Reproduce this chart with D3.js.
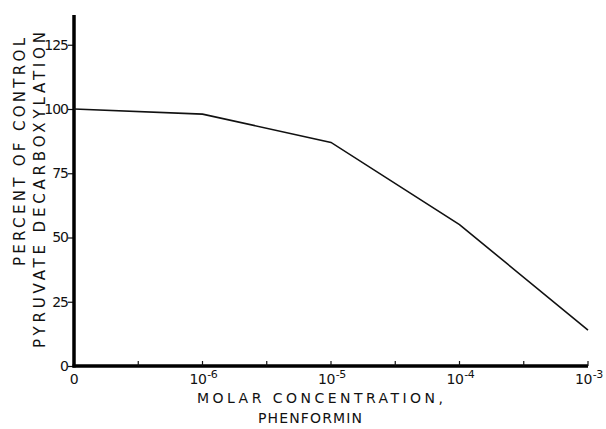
<!DOCTYPE html>
<html>
<head>
<meta charset="utf-8">
<script src="https://cdn.jsdelivr.net/npm/d3@7"></script>
<style>
  body { margin: 0; background: #fff; }
  text { font-family: "DejaVu Sans", sans-serif; fill: #111; }
</style>
</head>
<body>
<div id="chart"></div>
<script>
// concentration as log10 exponent; the "0" concentration sits one decade below 10^-6
const concExp = [-7, -6, -5, -4, -3];
const percentControl = [100, 98, 87, 55, 14];
const xTickLabels = [
    { exp: -7, text: "0", sup: "" },
    { exp: -6, text: "10", sup: "-6" },
    { exp: -5, text: "10", sup: "-5" },
    { exp: -4, text: "10", sup: "-4" },
    { exp: -3, text: "10", sup: "-3" }
];
const xMinorTicks = [-6.5, -5.5, -4.5, -3.5];
const yTicks = [0, 25, 50, 75, 100, 125];

const W = 606, H = 429;
const margin = { top: 15, right: 18, bottom: 63, left: 74 };

const svg = d3.select("#chart").append("svg")
    .attr("width", W)
    .attr("height", H);

const xScale = d3.scaleLinear()
    .domain([-7, -3])
    .range([margin.left, W - margin.right]);

const yScale = d3.scaleLinear()
    .domain([0, 100])
    .range([H - margin.bottom, 109]);

// y axis
const yAxis = svg.append("g")
    .attr("transform", "translate(" + margin.left + ",0)")
    .call(d3.axisLeft(yScale).tickValues(yTicks).tickSize(6).tickPadding(0));
yAxis.select(".domain").remove();
yAxis.selectAll(".tick line").attr("stroke", "#111").attr("stroke-width", 1.2);
yAxis.selectAll(".tick text")
    .style("font-size", "14px")
    .style("font-family", "DejaVu Sans")
    .attr("letter-spacing", "-1")
    .attr("fill", "#111");

svg.append("line")
    .attr("x1", margin.left).attr("x2", margin.left)
    .attr("y1", margin.top).attr("y2", yScale(0) + 1.5)
    .attr("stroke", "#000").attr("stroke-width", 3.5);

// x axis
svg.append("line")
    .attr("x1", margin.left - 1.5).attr("x2", xScale(-3))
    .attr("y1", yScale(0)).attr("y2", yScale(0))
    .attr("stroke", "#000").attr("stroke-width", 3.5);

svg.selectAll(".xtick")
    .data(concExp.slice(1).concat(xMinorTicks))
    .enter().append("line")
    .attr("x1", (d) => xScale(d)).attr("x2", (d) => xScale(d))
    .attr("y1", yScale(0)).attr("y2", yScale(0) - 5)
    .attr("stroke", "#111").attr("stroke-width", 1.2);

const xLab = svg.selectAll(".xlab")
    .data(xTickLabels)
    .enter().append("text")
    .attr("x", (d) => d.sup ? xScale(d.exp) - 13 : xScale(d.exp))
    .attr("y", yScale(0) + 18)
    .attr("text-anchor", (d) => d.sup ? "start" : "middle")
    .attr("letter-spacing", "-0.5")
    .style("font-size", "14px");
xLab.append("tspan").text((d) => d.text);
xLab.append("tspan")
    .attr("dy", "-6")
    .attr("dx", "1")
    .style("font-size", "11px")
    .text((d) => d.sup);

// axis titles
svg.append("text")
    .attr("x", 197).attr("y", 403)
    .attr("textLength", 246)
    .attr("lengthAdjust", "spacing")
    .style("font-size", "14px")
    .text("MOLAR  CONCENTRATION,");
svg.append("text")
    .attr("x", 258).attr("y", 423)
    .attr("textLength", 104)
    .attr("lengthAdjust", "spacing")
    .style("font-size", "14px")
    .text("PHENFORMIN");

svg.append("text")
    .attr("transform", "translate(25,266) rotate(-90)")
    .attr("textLength", 228)
    .attr("lengthAdjust", "spacing")
    .style("font-size", "15px")
    .text("PERCENT  OF  CONTROL");
svg.append("text")
    .attr("transform", "translate(45,348) rotate(-90)")
    .attr("textLength", 316)
    .attr("lengthAdjust", "spacing")
    .style("font-size", "15px")
    .text("PYRUVATE  DECARBOXYLATION");

// data line
const line = d3.line()
    .x((d, i) => xScale(concExp[i]))
    .y((d) => yScale(d));

svg.append("path")
    .datum(percentControl)
    .attr("d", line)
    .attr("fill", "none")
    .attr("stroke", "#111")
    .attr("stroke-width", 1.6);
</script>
</body>
</html>
